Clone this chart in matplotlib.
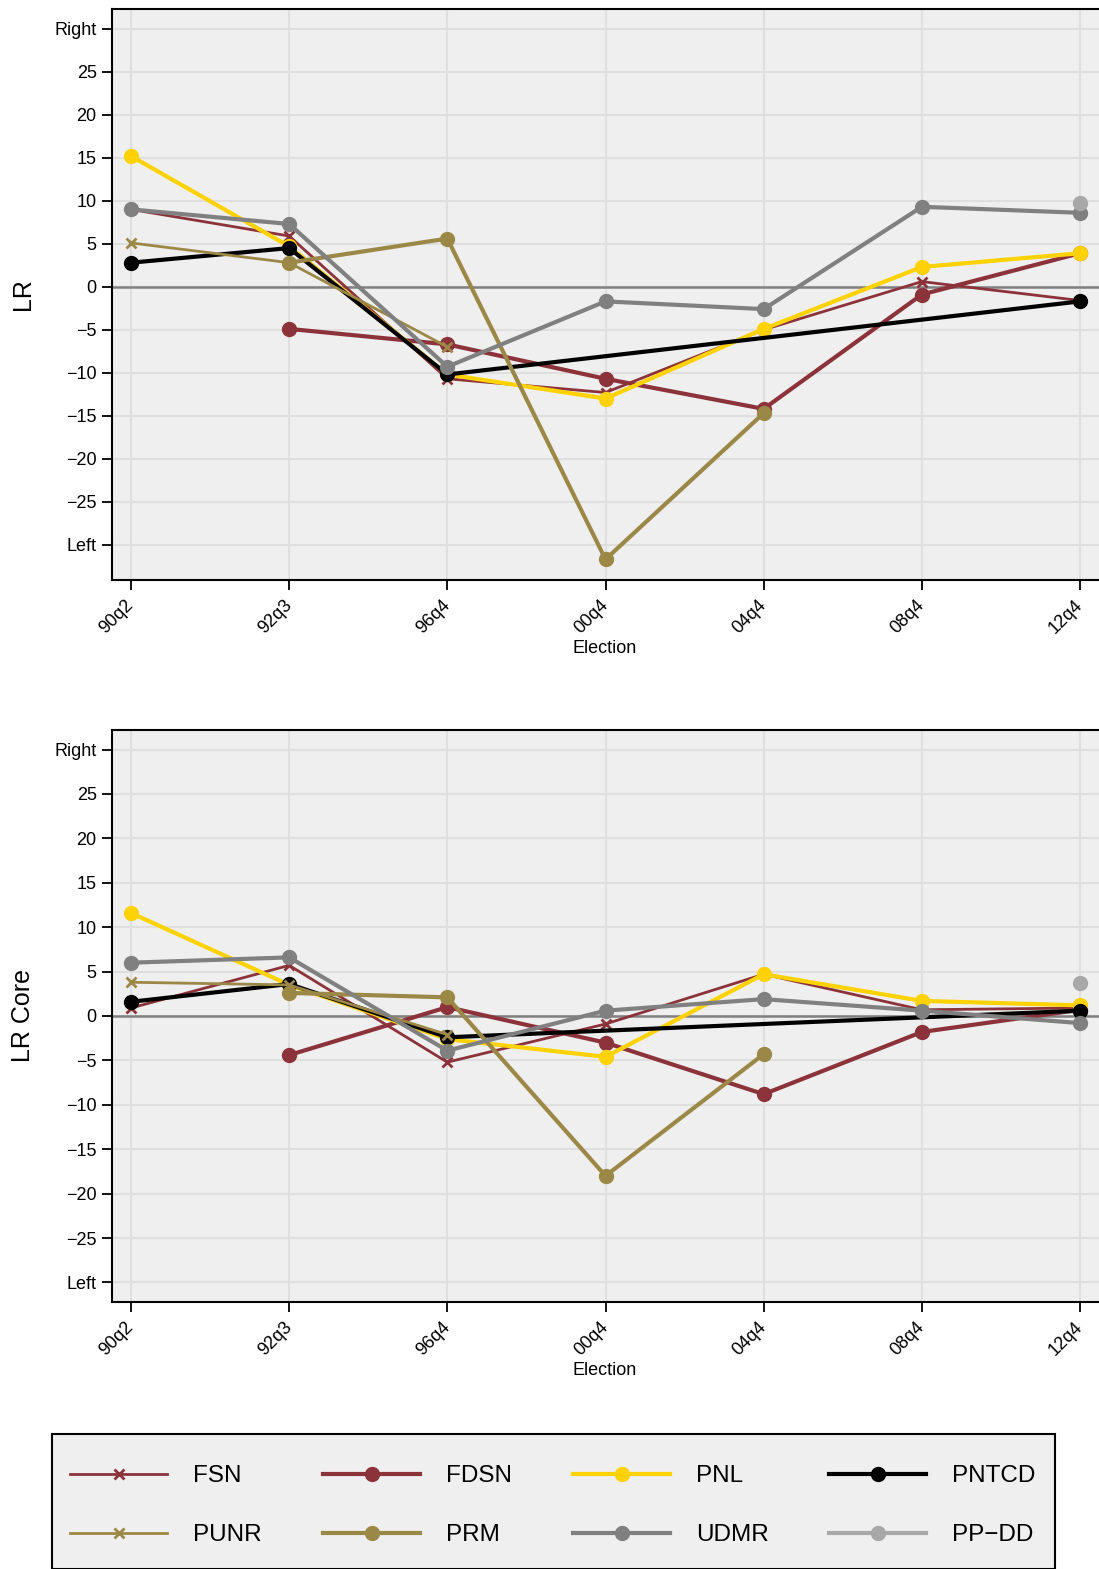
import numpy as np
import matplotlib
matplotlib.use('Agg')
import matplotlib.pyplot as plt
from matplotlib.lines import Line2D
from matplotlib.patches import Rectangle

plt.rcParams['font.family'] = ['Liberation Sans', 'DejaVu Sans']

nan = np.nan
elections = ['90q2', '92q3', '96q4', '00q4', '04q4', '08q4', '12q4']
parties = ['FSN', 'FDSN', 'PNL', 'PNTCD', 'PUNR', 'PRM', 'UDMR', 'PP\u2212DD']

# LR (top panel)
fsn_lr = [9.0, 5.9, -10.7, -12.3, -5.0, 0.6, -1.6]
fdsn_lr = [nan, -4.9, -6.7, -10.7, -14.2, -0.9, 3.9]
pnl_lr = [15.2, 4.7, -10.2, -13.0, -4.9, 2.3, 3.9]
pntcd_lr = [2.8, 4.5, -10.2, nan, nan, nan, -1.7]
punr_lr = [5.1, 2.8, -7.0, nan, nan, nan, nan]
prm_lr = [nan, 2.8, 5.6, -31.7, -14.7, nan, nan]
udmr_lr = [9.0, 7.3, -9.3, -1.7, -2.6, 9.3, 8.6]
ppdd_lr = [nan, nan, nan, nan, nan, nan, 9.7]

# LR Core (bottom panel)
fsn_core = [0.9, 5.7, -5.2, -0.9, 4.7, 0.7, 0.9]
fdsn_core = [nan, -4.4, 1.0, -3.0, -8.8, -1.8, 0.7]
pnl_core = [11.6, 3.5, -2.6, -4.6, 4.7, 1.7, 1.2]
pntcd_core = [1.6, 3.6, -2.4, nan, nan, nan, 0.6]
punr_core = [3.8, 3.5, -2.1, nan, nan, nan, nan]
prm_core = [nan, 2.6, 2.1, -18.0, -4.3, nan, nan]
udmr_core = [6.0, 6.6, -3.9, 0.6, 1.9, 0.6, -0.8]
ppdd_core = [nan, nan, nan, nan, nan, nan, 3.7]

yticks = [-30, -25, -20, -15, -10, -5, 0, 5, 10, 15, 20, 25, 30]
ytick_labels = ['Left', '\u221225', '\u221220', '\u221215', '\u221210', '\u22125', '0',
                '5', '10', '15', '20', '25', 'Right']

red = '#8c323a'
olive = '#9c8846'
styles = {
    'FSN': dict(color=red, lw=2.0, marker='x', ms=7, mew=2),
    'FDSN': dict(color=red, lw=3.0, marker='o', ms=10),
    'PNL': dict(color='#ffd200', lw=3.0, marker='o', ms=10),
    'PNTCD': dict(color='black', lw=3.0, marker='o', ms=10),
    'PUNR': dict(color=olive, lw=2.0, marker='x', ms=7, mew=2),
    'PRM': dict(color=olive, lw=3.0, marker='o', ms=10),
    'UDMR': dict(color='#808080', lw=3.0, marker='o', ms=10),
    'PP\u2212DD': dict(color='#a8a8a8', lw=3.0, marker='o', ms=10),
}

panels = [
    ('LR', [fsn_lr, fdsn_lr, pnl_lr, pntcd_lr, punr_lr, prm_lr, udmr_lr, ppdd_lr], 580, 9, (-34.1, 32.3)),
    ('LR Core', [fsn_core, fdsn_core, pnl_core, pntcd_core, punr_core, prm_core, udmr_core, ppdd_core],
     1302, 730, (-32.2, 32.2)),
]

W, H = 1099, 1569
fig = plt.figure(figsize=(W / 100, H / 100), dpi=100)
x = np.arange(len(elections))

for ylabel, series, bot, top, ylim in panels:
    ax = fig.add_axes([112 / W, 1 - bot / H, (W - 112) / W, (bot - top) / H])
    ax.set_facecolor('#efefef')
    ax.grid(True, color='#dfdfdf', lw=1.5)
    ax.set_axisbelow(True)
    ax.axhline(0, color='#808080', lw=1.8, zorder=1.5)
    for name, vals in zip(parties, series):
        v = np.array(vals, dtype=float)
        ok = ~np.isnan(v)
        ax.plot(x[ok], v[ok], zorder=3, **styles[name])
    ax.set_xlim(-0.12, 6.12)
    ax.set_ylim(*ylim)
    ax.set_yticks(yticks)
    ax.set_yticklabels(ytick_labels)
    ax.set_xticks(x)
    ax.set_xticklabels(elections, rotation=45, ha='right', va='center', rotation_mode='anchor')
    ax.tick_params(axis='both', labelsize=13, length=7, width=1.3, pad=4)
    ax.tick_params(axis='x', pad=9)
    for s in ['left', 'bottom', 'top']:
        ax.spines[s].set_linewidth(1.5)
    ax.spines['right'].set_visible(False)
    ax.set_ylabel(ylabel, fontsize=18)
    ax.yaxis.set_label_coords(-0.078, 0.5)
    ax.set_xlabel('Election', fontsize=13)
    ax.xaxis.set_label_coords(0.4995, -0.105)

# legend box
fig.patches.append(Rectangle((52 / W, 0), (1055 - 52) / W, 1 - 1434 / H, transform=fig.transFigure,
                             facecolor='#efefef', edgecolor='black', lw=1.5, zorder=0))
col_x = [70, 323, 573, 829]
row_y = [1476, 1535]
for i, name in enumerate(parties):
    r, c = divmod(i, 4)
    h = Line2D([], [], **styles[name])
    fig.legend(handles=[h], labels=[name], loc='center left',
               bbox_to_anchor=(col_x[c] / W, 1 - row_y[r] / H), frameon=False,
               borderpad=0, borderaxespad=0, fontsize=17.5, handlelength=4.0,
               handletextpad=1.05)

fig.savefig('out.png', dpi=100)
